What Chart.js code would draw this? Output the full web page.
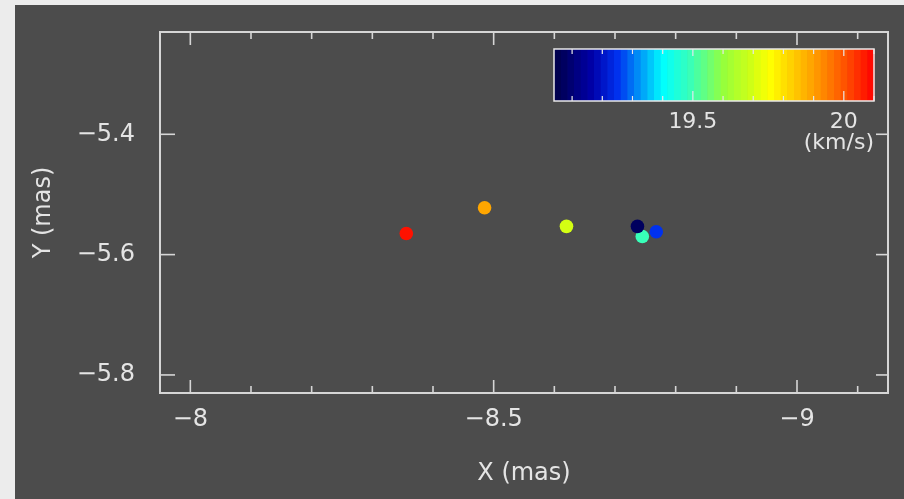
<!DOCTYPE html>
<html>
<head>
<meta charset="utf-8">
<script src="https://cdn.jsdelivr.net/npm/chart.js@4.4.1/dist/chart.umd.min.js"></script>
<style>
html,body{margin:0;padding:0;background:#ececec;width:904px;height:499px;overflow:hidden}
#wrap{position:absolute;left:15px;top:5px;width:889px;height:494px;background:#4c4c4c}
</style>
</head>
<body>
<div id="wrap"><canvas id="plot" width="889" height="494"></canvas></div>
<script>
//! data (teal first, it sits under the others)
const xMas = [-8.745, -8.356, -8.485, -8.620, -8.737, -8.768]
const yMas = [-5.570, -5.565, -5.522, -5.553, -5.553, -5.562]
const vel  = [19.49, 20.08, 19.89, 19.70, 19.07, 19.25]

//! ticks
const xMajor = [-8, -8.5, -9]
const xMinor = [-8.1, -8.2, -8.3, -8.4, -8.6, -8.7, -8.8, -8.9, -9.1]
const yMajor = [-5.8, -5.6, -5.4]
const cbRange = [19.04, 20.10]
const cbMajor = [19.5, 20]
const cbMinor = [19.1, 19.2, 19.3, 19.4, 19.6, 19.7, 19.8, 19.9, 20.1]

const fg = '#e4e4e4'
const FONT = "'DejaVu Sans', sans-serif"

//! colour map, jet-like
const cmapStops = [
    [0, [0, 0, 70]], [0.12, [0, 0, 170]], [0.2, [0, 50, 240]], [0.34, [0, 255, 255]],
    [0.43, [60, 255, 180]], [0.53, [150, 255, 60]], [0.62, [210, 255, 20]],
    [0.675, [255, 255, 0]], [0.81, [255, 160, 0]], [0.9, [255, 90, 0]], [1, [255, 0, 0]]
]
function cmap(f){
    f = Math.max(0, Math.min(1, f))
    for (let i = 1; i < cmapStops.length; i++) {
        const [f1, c1] = cmapStops[i]
        const [f0, c0] = cmapStops[i - 1]
        if (f <= f1) {
            const t = (f - f0) / (f1 - f0)
            const c = c0.map((v, k) => Math.round(v + (c1[k] - v) * t))
            return `rgb(${c[0]},${c[1]},${c[2]})`
        }
    }
    return 'rgb(255,0,0)'
}
const velColor = v => cmap((v - cbRange[0]) / (cbRange[1] - cbRange[0]))

const minus = v => (v < 0 ? '\u2212' : '') + Math.abs(v)

//! frame, inward ticks and colour bar
const framePlugin = {
    id: 'frame',
    afterDraw(chart){
        const {ctx, chartArea: a, scales: {x, y}} = chart
        ctx.save()
        ctx.strokeStyle = '#d6d6d6'
        ctx.lineWidth = 2
        ctx.strokeRect(a.left, a.top, a.right - a.left, a.bottom - a.top)
        ctx.lineWidth = 1.6
        const line = (x0, y0, x1, y1) => { ctx.beginPath(); ctx.moveTo(x0, y0); ctx.lineTo(x1, y1); ctx.stroke() }
        xMajor.forEach(v => { const p = x.getPixelForValue(v); line(p, a.bottom, p, a.bottom - 13); line(p, a.top, p, a.top + 13) })
        xMinor.forEach(v => { const p = x.getPixelForValue(v); line(p, a.bottom, p, a.bottom - 7); line(p, a.top, p, a.top + 7) })
        yMajor.forEach(v => { const p = y.getPixelForValue(v); line(a.left, p, a.left + 15, p); line(a.right, p, a.right - 12, p) })

        // colour bar
        const cb = {left: a.right - 334, top: a.top + 17, w: 320, h: 52}
        const steps = 48
        for (let i = 0; i < steps; i++) {
            ctx.fillStyle = cmap((i + 0.5) / steps)
            ctx.fillRect(cb.left + i * cb.w / steps, cb.top, cb.w / steps + 0.6, cb.h)
        }
        ctx.strokeStyle = '#e8e8e8'
        ctx.lineWidth = 1.5
        ctx.strokeRect(cb.left, cb.top, cb.w, cb.h)
        const cx = v => cb.left + (v - cbRange[0]) / (cbRange[1] - cbRange[0]) * cb.w
        ctx.lineWidth = 1.2
        cbMajor.forEach(v => { const p = cx(v); line(p, cb.top, p, cb.top + 7); line(p, cb.top + cb.h, p, cb.top + cb.h - 10) })
        cbMinor.forEach(v => { const p = cx(v); line(p, cb.top, p, cb.top + 5); line(p, cb.top + cb.h, p, cb.top + cb.h - 5) })
        ctx.fillStyle = fg
        ctx.font = `22px ${FONT}`
        ctx.textAlign = 'center'
        ctx.textBaseline = 'middle'
        cbMajor.forEach(v => ctx.fillText(String(v), cx(v), cb.top + cb.h + 21))
        ctx.textAlign = 'right'
        ctx.fillText('(km/s)', cb.left + cb.w, cb.top + cb.h + 42)
        ctx.restore()
    }
}

const ctxPlot = document.getElementById('plot').getContext('2d')
const myChart = new Chart(ctxPlot, {
    type: 'scatter',
    data: {
        datasets: [{
            data: xMas.map((v, i) => ({x: v, y: yMas[i]})),
            backgroundColor: c => velColor(vel[c.dataIndex]),
            borderWidth: 0,
            pointRadius: 6.8,
            pointHoverRadius: 6.8
        }]
    },
    options: {
        responsive: false,
        animation: false,
        layout: {padding: {top: 27, right: 16, left: 0, bottom: 0}},
        plugins: {legend: {display: false}, tooltip: {enabled: false}},
        scales: {
            x: {
                type: 'linear', reverse: true, min: -9.15, max: -7.95,
                grid: {display: false}, border: {display: false},
                afterBuildTicks: s => { s.ticks = xMajor.map(v => ({value: v})) },
                afterFit: s => { s.height = 106; s.paddingLeft = 0; s.paddingRight = 0 },
                ticks: {color: fg, font: {family: FONT, size: 24}, padding: 4, maxRotation: 0, autoSkip: false, callback: minus},
                title: {display: true, text: 'X (mas)', color: fg, font: {family: FONT, size: 24}, padding: {top: 0, bottom: 11}}
            },
            y: {
                type: 'linear', min: -5.83, max: -5.23,
                grid: {display: false}, border: {display: false},
                afterBuildTicks: s => { s.ticks = yMajor.map(v => ({value: v})) },
                afterFit: s => { s.width = 145; s.paddingTop = 0; s.paddingBottom = 0 },
                ticks: {color: fg, font: {family: FONT, size: 24}, padding: 17, autoSkip: false, callback: minus},
                title: {display: true, text: 'Y (mas)', color: fg, font: {family: FONT, size: 24}, padding: {top: 14, bottom: 0}}
            }
        }
    },
    plugins: [framePlugin]
})
</script>
</body>
</html>
